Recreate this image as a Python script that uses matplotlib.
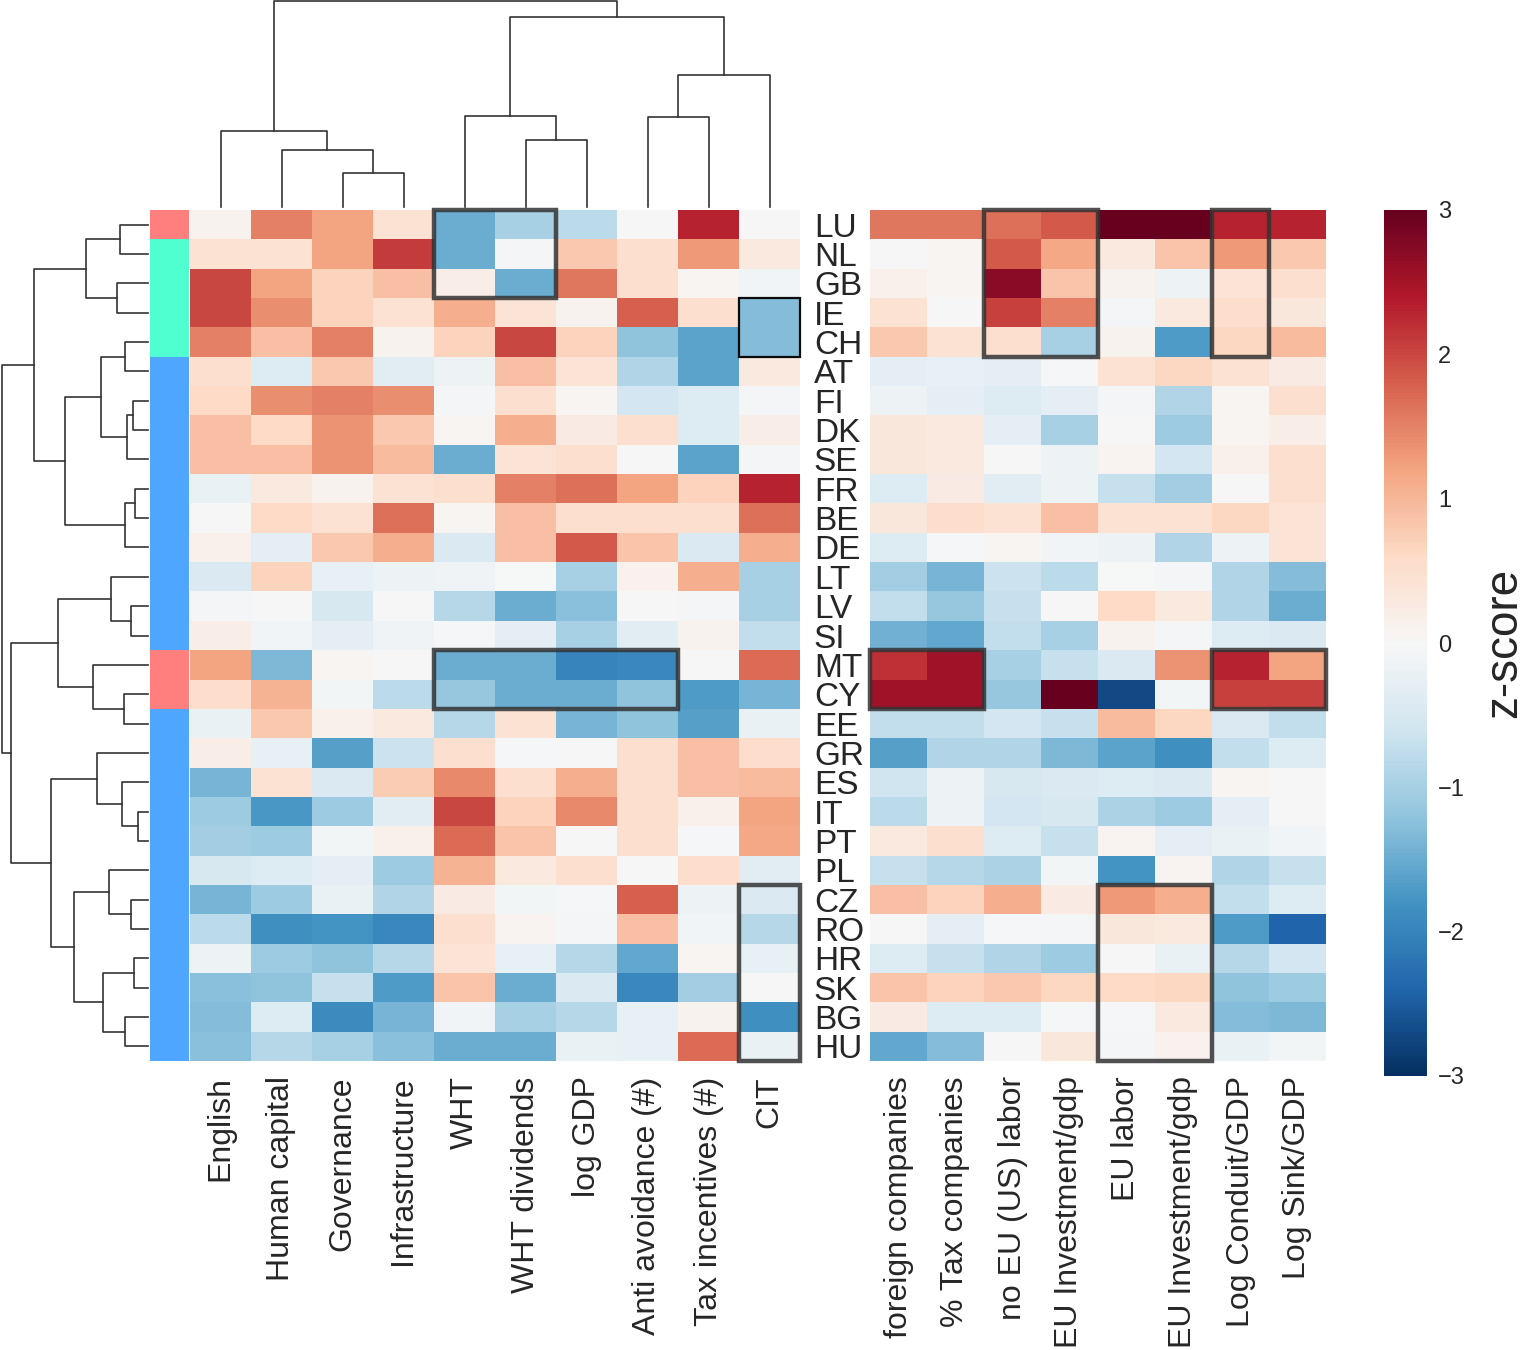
import numpy as np
import matplotlib
matplotlib.use("Agg")
import matplotlib.pyplot as plt
from matplotlib.patches import Rectangle

plt.rcParams["font.family"] = ["Liberation Sans", "DejaVu Sans"]

countries = ["LU", "NL", "GB", "IE", "CH", "AT", "FI", "DK", "SE", "FR", "BE", "DE",
             "LT", "LV", "SI", "MT", "CY", "EE", "GR", "ES", "IT", "PT", "PL", "CZ",
             "RO", "HR", "SK", "BG", "HU"]

left_cols = ["English", "Human capital", "Governance", "Infrastructure", "WHT",
             "WHT dividends", "log GDP", "Anti avoidance (#)", "Tax incentives (#)", "CIT"]

right_cols = ["foreign companies", "% Tax companies", "no EU (US) labor",
              "EU Investment/gdp", "EU labor", "EU Investment/gdp",
              "Log Conduit/GDP", "Log Sink/GDP"]

# z-scores, one row per country (order as displayed)
left_values = [
    [0.1, 1.5, 1.2, 0.45, -1.5, -1.0, -0.8, 0.0, 2.3, 0.0],
    [0.45, 0.45, 1.2, 2.1, -1.5, -0.05, 0.8, 0.5, 1.3, 0.3],
    [2.0, 1.2, 0.7, 0.9, 0.2, -1.5, 1.6, 0.5, 0.05, -0.1],
    [2.0, 1.4, 0.7, 0.45, 1.1, 0.4, 0.1, 1.8, 0.5, -1.3],
    [1.5, 0.9, 1.5, 0.1, 0.7, 2.0, 0.7, -1.2, -1.6, -1.3],
    [0.5, -0.4, 0.8, -0.35, -0.15, 0.9, 0.4, -0.9, -1.6, 0.3],
    [0.6, 1.4, 1.5, 1.4, -0.05, 0.5, 0.05, -0.55, -0.4, -0.05],
    [0.9, 0.6, 1.35, 0.8, 0.05, 1.1, 0.25, 0.5, -0.4, 0.2],
    [0.9, 0.9, 1.35, 0.95, -1.5, 0.4, 0.5, 0.0, -1.6, -0.05],
    [-0.2, 0.3, 0.1, 0.45, 0.5, 1.5, 1.65, 1.2, 0.7, 2.3],
    [0.0, 0.6, 0.45, 1.65, 0.05, 0.9, 0.5, 0.5, 0.5, 1.65],
    [0.15, -0.3, 0.8, 1.1, -0.45, 0.9, 1.85, 0.85, -0.45, 1.1],
    [-0.45, 0.7, -0.25, -0.15, -0.12, -0.02, -1.0, 0.12, 1.1, -1.0],
    [-0.05, 0.02, -0.5, 0.0, -0.85, -1.5, -1.25, 0.0, -0.07, -1.0],
    [0.2, -0.1, -0.3, -0.12, -0.03, -0.3, -1.0, -0.35, 0.1, -0.75],
    [1.2, -1.35, 0.05, 0.0, -1.5, -1.5, -2.0, -1.95, 0.02, 1.7],
    [0.55, 1.05, -0.08, -0.8, -1.15, -1.5, -1.5, -1.2, -1.7, -1.4],
    [-0.2, 0.8, 0.15, 0.3, -0.85, 0.45, -1.4, -1.2, -1.65, -0.2],
    [0.2, -0.25, -1.65, -0.65, 0.5, -0.03, 0.0, 0.5, 0.9, 0.55],
    [-1.4, 0.45, -0.45, 0.75, 1.45, 0.5, 1.1, 0.5, 0.9, 0.95],
    [-1.1, -1.75, -1.1, -0.35, 2.0, 0.7, 1.45, 0.5, 0.15, 1.2],
    [-1.05, -1.1, -0.08, 0.15, 1.7, 0.85, 0.0, 0.5, -0.03, 1.15],
    [-0.5, -0.4, -0.3, -1.1, 1.05, 0.3, 0.5, 0.0, 0.55, -0.35],
    [-1.4, -1.1, -0.2, -0.9, 0.25, -0.08, -0.03, 1.8, -0.15, -0.45],
    [-0.8, -1.85, -1.8, -1.95, 0.5, 0.08, -0.05, 0.9, -0.1, -0.85],
    [-0.15, -1.1, -1.2, -0.85, 0.4, -0.25, -0.85, -1.55, 0.05, -0.25],
    [-1.25, -1.2, -0.7, -1.7, 0.85, -1.5, -0.45, -1.95, -1.05, 0.0],
    [-1.3, -0.4, -1.9, -1.4, -0.1, -1.0, -0.85, -0.25, 0.1, -1.85],
    [-1.25, -0.85, -1.0, -1.25, -1.5, -1.5, -0.2, -0.25, 1.7, -0.2],
]

right_values = [
    [1.6, 1.6, 1.65, 1.85, 3.0, 3.0, 2.3, 2.3],
    [0.0, 0.05, 1.85, 1.15, 0.3, 0.85, 1.3, 0.8],
    [0.15, 0.05, 2.7, 0.85, 0.1, -0.15, 0.4, 0.5],
    [0.45, 0.0, 2.05, 1.5, -0.05, 0.3, 0.55, 0.35],
    [0.8, 0.45, 0.5, -1.0, 0.1, -1.7, 0.65, 0.95],
    [-0.3, -0.25, -0.3, -0.03, 0.45, 0.65, 0.45, 0.25],
    [-0.15, -0.3, -0.4, -0.3, -0.05, -0.9, 0.05, 0.5],
    [0.35, 0.3, -0.3, -1.0, 0.0, -1.1, 0.07, 0.2],
    [0.35, 0.3, 0.0, -0.15, 0.08, -0.55, 0.15, 0.5],
    [-0.4, 0.25, -0.35, -0.15, -0.7, -1.05, 0.0, 0.5],
    [0.35, 0.55, 0.45, 0.9, 0.45, 0.45, 0.65, 0.4],
    [-0.4, -0.03, 0.05, -0.1, -0.15, -0.9, -0.15, 0.4],
    [-1.05, -1.4, -0.65, -0.8, -0.02, -0.05, -0.9, -1.3],
    [-0.75, -1.15, -0.7, 0.0, 0.6, 0.3, -0.9, -1.5],
    [-1.45, -1.55, -0.75, -1.0, 0.1, -0.05, -0.4, -0.45],
    [2.2, 2.55, -1.0, -0.7, -0.45, 1.35, 2.3, 1.2],
    [2.55, 2.55, -1.15, 3.0, -2.7, -0.08, 2.05, 2.05],
    [-0.75, -0.75, -0.55, -0.7, 0.95, 0.65, -0.45, -0.75],
    [-1.65, -0.9, -0.9, -1.35, -1.6, -1.85, -0.75, -0.4],
    [-0.6, -0.15, -0.5, -0.45, -0.4, -0.45, 0.05, 0.02],
    [-0.8, -0.15, -0.55, -0.5, -0.95, -1.1, -0.3, 0.0],
    [0.3, 0.5, -0.4, -0.7, 0.08, -0.3, -0.2, -0.1],
    [-0.7, -0.85, -0.95, -0.08, -1.8, 0.08, -0.9, -0.7],
    [0.9, 0.7, 1.1, 0.25, 1.3, 1.1, -0.75, -0.4],
    [0.0, -0.3, -0.03, -0.07, 0.35, 0.3, -1.7, -2.4],
    [-0.4, -0.7, -0.9, -1.1, 0.02, -0.2, -0.85, -0.55],
    [0.85, 0.7, 0.8, 0.65, 0.6, 0.65, -1.2, -1.1],
    [0.25, -0.4, -0.4, -0.03, -0.03, 0.3, -1.3, -1.35],
    [-1.55, -1.3, 0.02, 0.35, -0.07, 0.12, -0.2, -0.08],
]

# country group shown in the colour strip
groups = ["sink", "conduit", "conduit", "conduit", "conduit"] + ["other"] * 10 + \
         ["sink", "sink"] + ["other"] * 12
group_colors = {"sink": "#ff7f7f", "conduit": "#4fffd0", "other": "#4fa6ff"}

# linkage (scipy style): new cluster id = n_leaves + index
row_merges = [
    (0, 1, 28), (2, 3, 31), (29, 30, 62), (4, 5, 23.4), (6, 7, 15), (33, 8, 21.4),
    (32, 34, 47.5), (9, 10, 13), (36, 11, 23.4), (35, 37, 83.4), (31, 38, 113.7),
    (13, 14, 17.3), (12, 40, 37), (16, 17, 24.4), (15, 42, 54.7), (41, 43, 90),
    (20, 21, 10), (19, 45, 26.5), (18, 46, 50.6), (23, 24, 17), (22, 48, 39),
    (25, 26, 14), (27, 28, 23.4), (50, 51, 45.5), (49, 52, 73.7), (47, 53, 97.3),
    (44, 54, 136.7), (39, 55, 146),
]
col_merges = [
    (2, 3, 34), (1, 10, 56), (0, 11, 75), (5, 6, 66), (4, 13, 90), (7, 8, 89),
    (15, 9, 131), (14, 16, 188), (12, 17, 204),
]

# highlighted blocks: (first col, first row, n cols, n rows, thin)
left_boxes = [(4, 0, 2, 3, False), (9, 3, 1, 2, True), (4, 15, 4, 2, False), (9, 23, 1, 6, False)]
right_boxes = [(2, 0, 2, 5, False), (6, 0, 1, 5, False), (0, 15, 2, 2, False),
               (6, 15, 2, 2, False), (4, 23, 2, 6, False)]

W, H = 1524, 1350
fig = plt.figure(figsize=(W / 100, H / 100), dpi=100)


def px_axes(x0, y0, x1, y1):
    return fig.add_axes([x0 / W, 1 - y1 / H, (x1 - x0) / W, (y1 - y0) / H])


def draw_dendro(ax, merges, n, side):
    pos = {i: i + 0.5 for i in range(n)}
    hgt = {i: 0.0 for i in range(n)}
    for k, (a, b, h) in enumerate(merges):
        p = [pos[a], pos[a], pos[b], pos[b]]
        q = [hgt[a], h, h, hgt[b]]
        if side == "top":
            ax.plot(p, q, color="#333333", lw=1.2, clip_on=False)
        else:
            ax.plot(q, p, color="#333333", lw=1.2, clip_on=False)
        pos[n + k] = (pos[a] + pos[b]) / 2
        hgt[n + k] = h
    ax.axis("off")


n_rows = len(countries)
text_color = "#262626"
cmap = plt.get_cmap("RdBu_r")

top, bottom = 210, 1061

ax_cd = px_axes(190, 0, 800, 207)
draw_dendro(ax_cd, col_merges, len(left_cols), "top")
ax_cd.set_xlim(0, len(left_cols))
ax_cd.set_ylim(0, 205)

ax_rd = px_axes(0, top, 148, bottom)
draw_dendro(ax_rd, row_merges, n_rows, "left")
ax_rd.set_ylim(n_rows, 0)
ax_rd.set_xlim(148, 0)

ax_strip = px_axes(150, top, 188, bottom)
strip = np.array([[matplotlib.colors.to_rgb(group_colors[g])] for g in groups])
ax_strip.imshow(strip, aspect="auto", extent=(0, 1, n_rows, 0))
ax_strip.axis("off")


def heat(ax, values, cols, boxes):
    arr = np.array(values)
    mesh = ax.pcolormesh(np.arange(arr.shape[1] + 1), np.arange(n_rows + 1), arr,
                         cmap=cmap, vmin=-3, vmax=3)
    ax.set_xlim(0, arr.shape[1])
    ax.set_ylim(n_rows, 0)
    ax.set_xticks(np.arange(arr.shape[1]) + 0.5)
    ax.set_xticklabels(cols, rotation=90, fontsize=23, color=text_color, va="top")
    ax.tick_params(axis="x", length=0, pad=11)
    for s in ax.spines.values():
        s.set_visible(False)
    for c0, r0, nc, nr, thin in boxes:
        ax.add_patch(Rectangle((c0, r0), nc, nr, fill=False,
                               edgecolor="black" if thin else "#333333",
                               lw=1.6 if thin else 3.2, alpha=0.95 if thin else 0.85,
                               clip_on=False, zorder=5))
    return mesh


ax_l = px_axes(190, top, 800, bottom)
mesh = heat(ax_l, left_values, left_cols, left_boxes)
ax_l.yaxis.tick_right()
ax_l.set_yticks(np.arange(n_rows) + 0.5)
ax_l.set_yticklabels(countries, fontsize=24, color=text_color, ha="left")
ax_l.tick_params(axis="y", length=0, pad=10)

ax_r = px_axes(870, top, 1326, bottom)
heat(ax_r, right_values, right_cols, right_boxes)
ax_r.set_yticks([])

cax = px_axes(1384, top, 1427, 1076)
cb = fig.colorbar(mesh, cax=cax, ticks=[-3, -2, -1, 0, 1, 2, 3])
cb.outline.set_visible(False)
cb.ax.tick_params(length=0, labelsize=17, labelcolor=text_color, pad=8)
cb.set_label("z-score", fontsize=33, color=text_color, labelpad=12)

fig.savefig("out.png", dpi=100)
